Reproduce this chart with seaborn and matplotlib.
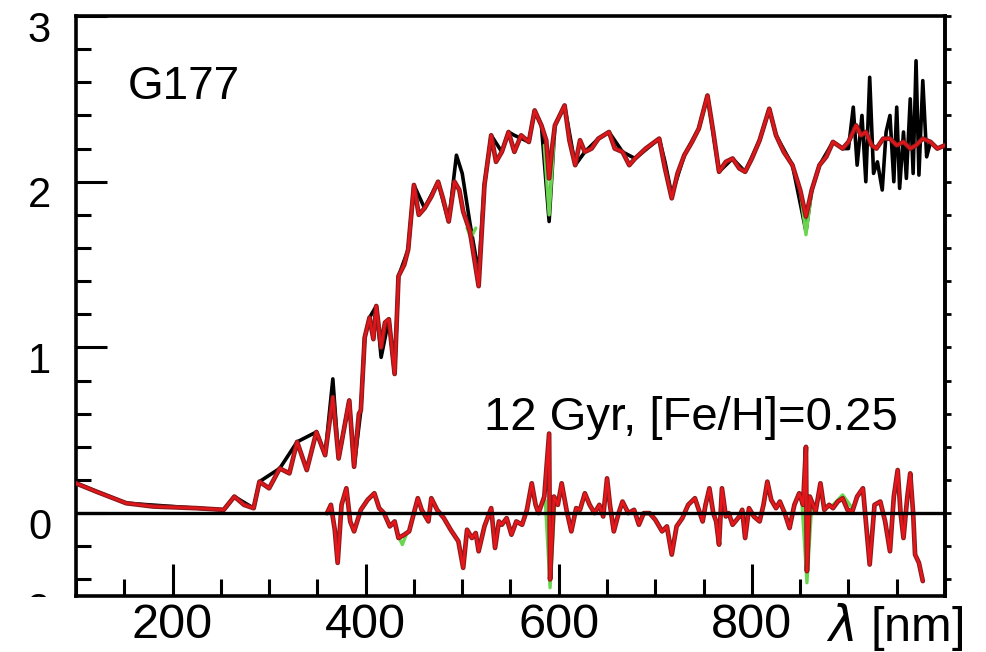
import numpy as np
import pandas as pd
import matplotlib
matplotlib.use("Agg")
import matplotlib.pyplot as plt
import matplotlib.transforms as mtransforms
from matplotlib.ticker import MultipleLocator
import seaborn as sns

# spectrum of G177: fitted model (red) and observed (black), in nm
lam_fit = [100, 121, 152, 180, 225, 253, 264, 274, 284, 290, 300, 311, 321, 329, 339, 349, 358,
           366, 372, 383, 388, 393, 395, 399, 404, 408, 411, 416, 420, 424, 430, 434, 440, 444,
           450, 455, 461, 468, 475, 480, 486, 492, 497, 501, 508, 517, 523, 530, 535, 541, 548,
           554, 561, 569, 575, 582, 587, 590, 593, 596, 606, 611, 617, 622, 627, 634, 641, 652,
           658, 666, 673, 679, 690, 704, 710, 717, 723, 730, 738, 745, 754, 760, 766, 773, 780,
           787, 793, 800, 808, 818, 825, 833, 842, 850, 856, 862, 870, 877, 884, 894, 900, 908,
           913, 918, 924, 929, 936, 943, 950, 957, 964, 970, 977, 985, 992, 1000]
flux_fit = [0.18, 0.13, 0.06, 0.04, 0.03, 0.02, 0.10, 0.05, 0.03, 0.19, 0.15, 0.27, 0.24, 0.43, 0.26, 0.49, 0.35,
            0.70, 0.33, 0.68, 0.28, 0.60, 0.62, 1.06, 1.18, 1.05, 1.25, 1.00, 1.15, 1.17, 0.84, 1.43, 1.50, 1.59,
            1.98, 1.80, 1.84, 1.91, 2.00, 1.90, 1.76, 2.00, 1.95, 1.82, 1.70, 1.37, 1.98, 2.28, 2.12, 2.18, 2.30,
            2.18, 2.28, 2.24, 2.43, 2.34, 2.25, 2.02, 2.20, 2.34, 2.46, 2.25, 2.10, 2.25, 2.18, 2.20, 2.26, 2.30,
            2.20, 2.18, 2.10, 2.14, 2.20, 2.26, 2.08, 1.90, 2.05, 2.16, 2.24, 2.32, 2.52, 2.30, 2.06, 2.12, 2.14,
            2.08, 2.06, 2.14, 2.25, 2.44, 2.28, 2.18, 2.10, 1.95, 1.79, 1.95, 2.10, 2.15, 2.24, 2.20, 2.24, 2.34,
            2.28, 2.30, 2.22, 2.20, 2.26, 2.26, 2.22, 2.24, 2.20, 2.22, 2.26, 2.24, 2.20, 2.22]

lam_obs = [100, 152, 225, 253, 264, 284, 290, 311, 329, 349, 358, 366, 372, 383, 388, 395, 399, 404,
           411, 416, 424, 430, 434, 444, 450, 461, 475, 486, 494, 500, 508, 517, 523, 530, 541, 548,
           554, 569, 575, 582, 590, 596, 606, 617, 627, 641, 652, 666, 679, 704, 710, 717, 730, 745,
           754, 766, 780, 793, 808, 818, 825, 842, 856, 862, 870, 884, 894, 900, 905, 909, 914, 918,
           922, 926, 930, 935, 939, 943, 947, 950, 953, 957, 960, 964, 967, 970, 973, 977, 981, 985,
           992, 1000]
flux_obs = [0.18, 0.06, 0.03, 0.02, 0.10, 0.03, 0.19, 0.27, 0.43, 0.49, 0.35, 0.81, 0.33, 0.68, 0.28, 0.62, 1.06, 1.18,
            1.25, 0.94, 1.17, 0.84, 1.43, 1.59, 1.98, 1.84, 2.00, 1.76, 2.16, 2.05, 1.75, 1.45, 1.98, 2.28, 2.18, 2.30,
            2.28, 2.24, 2.43, 2.34, 1.76, 2.34, 2.46, 2.10, 2.18, 2.26, 2.30, 2.18, 2.14, 2.26, 2.12, 1.92, 2.16, 2.32,
            2.52, 2.06, 2.14, 2.06, 2.25, 2.44, 2.28, 2.10, 1.70, 1.95, 2.10, 2.24, 2.20, 2.20, 2.45, 2.10, 2.40, 2.00,
            2.63, 2.05, 2.12, 1.95, 2.30, 2.40, 2.00, 2.45, 1.96, 2.30, 2.02, 2.50, 2.05, 2.73, 2.04, 2.61, 2.15, 2.24,
            2.20, 2.22]

# residuals (observed - model)
lam_res = [360, 364, 368, 371, 375, 380, 384, 388, 395, 402, 409, 414, 419, 425, 430, 434, 440, 445, 450, 454,
           458, 465, 468, 474, 481, 488, 496, 501, 505, 510, 514, 517, 523, 530, 534, 538, 541, 546, 551, 556,
           562, 567, 572, 576, 579, 585, 590, 591, 595, 599, 603, 608, 613, 618, 622, 627, 632, 637, 642, 646,
           650, 653, 657, 662, 666, 672, 678, 683, 688, 694, 700, 707, 712, 717, 722, 728, 734, 741, 745, 749,
           752, 756, 760, 763, 766, 769, 773, 776, 780, 787, 790, 793, 797, 802, 808, 812, 816, 820, 825, 829,
           834, 839, 844, 849, 853, 856, 857, 860, 866, 871, 875, 880, 884, 889, 894, 899, 904, 909, 915, 918,
           922, 927, 933, 938, 943, 947, 951, 954, 957, 961, 964, 967, 969, 973, 977]
res = [0.00, 0.05, -0.10, -0.30, 0.05, 0.15, -0.05, -0.11, 0.02, 0.08, 0.12, 0.03, 0.00, -0.08, -0.05, -0.15, -0.13, -0.11, 0.00, 0.09,
       0.02, -0.05, 0.09, 0.02, -0.03, -0.10, -0.17, -0.33, -0.10, -0.15, -0.12, -0.23, -0.08, 0.03, -0.21, -0.05, -0.07, -0.03, -0.13, -0.05,
       -0.07, 0.02, 0.18, 0.05, 0.00, 0.10, 0.48, -0.40, 0.10, 0.05, 0.18, 0.02, -0.11, 0.03, 0.02, 0.12, 0.05, 0.00, 0.05, -0.02,
       0.21, 0.05, -0.11, 0.00, 0.07, 0.00, 0.02, -0.07, 0.00, 0.00, -0.04, -0.11, -0.08, -0.25, -0.08, -0.03, 0.05, 0.09, 0.02, -0.05,
       0.05, 0.15, 0.00, -0.05, -0.19, 0.15, -0.02, 0.00, -0.07, -0.02, 0.02, -0.15, 0.03, -0.02, -0.05, 0.05, 0.19, 0.08, 0.03, 0.07,
       0.00, -0.09, 0.05, 0.12, 0.05, 0.40, -0.35, 0.10, 0.01, 0.18, 0.02, 0.05, 0.03, 0.07, 0.09, 0.02, 0.01, 0.10, 0.15, -0.05,
       -0.31, 0.05, 0.07, -0.05, -0.23, 0.10, 0.26, 0.00, -0.15, 0.10, 0.24, 0.00, -0.25, -0.30, -0.41]

# second model (green), only where it departs from the red one
green_seg = [0, 0, 0, 1, 1, 1, 2, 2, 2, 3, 3, 3, 4, 4, 4, 5, 5, 5, 6, 6, 6]
green_lam = [585, 590, 595, 850, 856, 862, 505, 509, 514, 434, 438, 442, 586, 591, 596, 852, 857, 862, 884, 894, 904]
green_val = [2.22, 1.80, 2.25, 1.95, 1.68, 1.95, 1.72, 1.66, 1.72, -0.14, -0.19, -0.13, 0.08, -0.45, 0.08, 0.05, -0.42, 0.05, 0.05, 0.11, 0.03]

xticks = [200, 400, 600, 800]
yticks = [0, 1, 2, 3]

df_fit = pd.DataFrame({"lam": lam_fit, "flux": flux_fit})
df_obs = pd.DataFrame({"lam": lam_obs, "flux": flux_obs})
df_res = pd.DataFrame({"lam": lam_res, "res": res})
df_green = pd.DataFrame({"seg": green_seg, "lam": green_lam, "val": green_val})

sns.set_style("ticks")
plt.rcParams["font.family"] = ["Liberation Sans", "DejaVu Sans"]
plt.rcParams["text.color"] = "black"

fig = plt.figure(figsize=(9.87, 6.52), dpi=100)
ax = fig.add_axes([76 / 987, 1 - 596 / 652, (945 - 76) / 987, (596 - 16) / 652])

sns.lineplot(data=df_obs, x="lam", y="flux", color="black", lw=2.6, sort=False, estimator=None, ax=ax, zorder=2)
sns.lineplot(data=df_green, x="lam", y="val", units="seg", estimator=None, sort=False,
             color="#6ad650", lw=2.4, ax=ax, zorder=2.5)
sns.lineplot(data=df_fit, x="lam", y="flux", color="#8a1c1c", lw=3.4, sort=False, estimator=None, ax=ax, zorder=3)
sns.lineplot(data=df_fit, x="lam", y="flux", color="#e0161a", lw=1.8, sort=False, estimator=None, ax=ax, zorder=3.2)
sns.lineplot(data=df_res, x="lam", y="res", color="#8a1c1c", lw=3.4, sort=False, estimator=None, ax=ax, zorder=3)
sns.lineplot(data=df_res, x="lam", y="res", color="#e8161a", lw=1.8, sort=False, estimator=None, ax=ax, zorder=3.2)
ax.axhline(0, color="black", lw=2.4, zorder=3.5)

ax.set_xlim(100, 1000)
ax.set_ylim(-0.5, 3.0)
ax.set_xlabel("")
ax.set_ylabel("")
ax.set_xticks(xticks)
ax.set_yticks(yticks)
ax.xaxis.set_minor_locator(MultipleLocator(50))
ax.yaxis.set_minor_locator(MultipleLocator(0.2))
ax.tick_params(which="both", direction="in", width=2.2, colors="black", labelcolor="black", top=False, right=False)
ax.tick_params(axis="x", which="major", length=23, labelsize=35, pad=5)
ax.tick_params(axis="x", which="minor", length=12)
ax.tick_params(axis="y", which="major", length=22, labelsize=30, pad=18)
ax.tick_params(axis="y", which="minor", length=11)
for sp in ax.spines.values():
    sp.set_linewidth(2.6)
    sp.set_color("black")

# labels on the y axis sit a bit below their ticks
shift = mtransforms.ScaledTranslation(0, -0.1, fig.dpi_scale_trans)
for lab in ax.get_yticklabels():
    lab.set_transform(lab.get_transform() + shift)

sec = ax.secondary_yaxis("right")
sec.set_yticks([])
sec.yaxis.set_minor_locator(MultipleLocator(0.2))
sec.tick_params(which="minor", direction="out", length=4, width=2, colors="black")
sec.spines["right"].set_linewidth(2.6)
sec.spines["right"].set_color("black")

# cut-off label under the bottom spine
t = fig.text(50 / 987, 1 - 612 / 652, "2", ha="right", va="center", fontsize=30, color="black")
t.set_clip_box(mtransforms.TransformedBbox(mtransforms.Bbox.from_extents(0, 1 - 597 / 652, 1, 1), fig.transFigure))
t.set_clip_on(True)

ax.text(154, 2.50, "G177", fontsize=33, ha="left", va="baseline", color="black")
ax.text(523, 0.50, "12 Gyr, [Fe/H]=0.25", fontsize=34, ha="left", va="baseline", color="black")
fig.text(826 / 987, 1 - 641 / 652, r"$\lambda$ [nm]", fontsize=35, ha="left", va="baseline", color="black")

fig.savefig("out.png", dpi=100, facecolor="white")
